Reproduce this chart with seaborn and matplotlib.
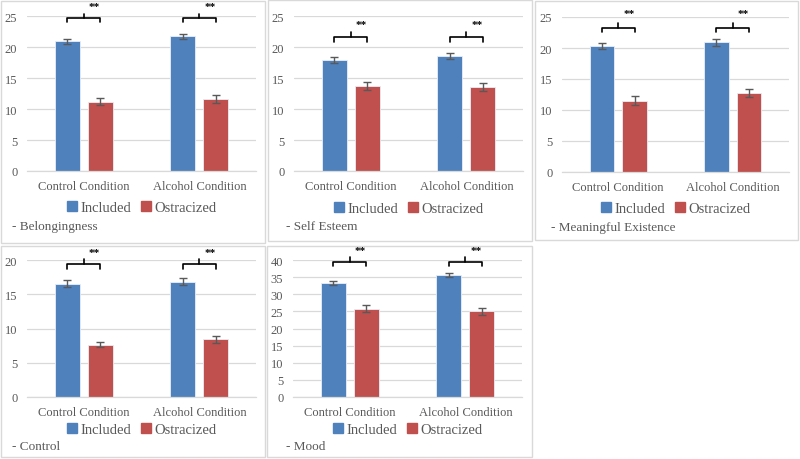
import numpy as np
import pandas as pd
import seaborn as sns
import matplotlib.pyplot as plt
from matplotlib.patches import Rectangle
from matplotlib.lines import Line2D

conditions = ["Control Condition", "Alcohol Condition"]
groups = ["Included", "Ostracized"]
measures = ["Belongingness", "Self Esteem", "Meaningful Existence", "Control", "Mood"]

included_means = [[20.9, 21.7], [17.9, 18.5], [20.3, 20.9], [16.55, 16.85], [33.3, 35.7]]
ostracized_means = [[11.2, 11.6], [13.7, 13.5], [11.5, 12.8], [7.65, 8.4], [25.8, 25.0]]
included_err = [[0.4, 0.45], [0.5, 0.5], [0.45, 0.5], [0.5, 0.5], [0.6, 0.6]]
ostracized_err = [[0.6, 0.6], [0.6, 0.65], [0.7, 0.65], [0.4, 0.45], [1.1, 1.1]]
y_max = [25, 25, 25, 20, 40]
significance = ["**", "**"]

# layout in image pixels (800x460): panel box, axes box, label rows
panel_box = [(1, 2, 265, 244), (268, 1, 532, 242), (535, 2, 798, 241),
             (1, 247, 265, 458), (267, 247, 532, 458)]
axes_box = [(27, 17, 256, 172), (294, 17, 523, 172), (562, 18, 789, 173),
            (27, 261, 256, 398), (293, 261, 522, 398)]
legend_y = [208, 209, 209, 430, 430]
title_xy = [(12, 227), (286, 227), (551, 228), (12, 447), (286, 447)]
# bracket rows in data units: leg bottom, bar, centre tip, stars
bracket_y = [(24.0, 24.6, 25.3, 27.0), (20.8, 21.6, 22.4, 24.2),
             (22.6, 23.3, 24.1, 26.0), (18.7, 19.4, 20.2, 21.6),
             (38.3, 39.5, 41.0, 43.8)]

W, H = 800, 460
colors = ["#4f81bd", "#c0504d"]
text_gray = "#595959"
grid_gray = "#d9d9d9"

sns.set_theme(style="white")
plt.rcParams["font.family"] = ["Liberation Serif", "DejaVu Serif"]

fig = plt.figure(figsize=(W / 100, H / 100), dpi=100)


def fx(px):
    return px / W


def fy(py):
    return 1 - py / H


for k, name in enumerate(measures):
    x0, y0, x1, y1 = panel_box[k]
    fig.add_artist(Rectangle((fx(x0), fy(y1)), (x1 - x0) / W, (y1 - y0) / H,
                             transform=fig.transFigure, fill=False,
                             edgecolor=grid_gray, linewidth=1.0, zorder=0))

    l, t, r, b = axes_box[k]
    ax = fig.add_axes([fx(l), fy(b), (r - l) / W, (b - t) / H])

    df = pd.DataFrame({
        "condition": conditions * 2,
        "group": [groups[0]] * 2 + [groups[1]] * 2,
        "value": included_means[k] + ostracized_means[k],
    })
    sns.barplot(data=df, x="condition", y="value", hue="group", order=conditions,
                hue_order=groups, palette=colors, errorbar=None, width=0.57,
                gap=0.25, saturation=1, edgecolor="#e8eef7", linewidth=0.6,
                legend=False, ax=ax, zorder=2)

    bars = [list(c) for c in ax.containers[:2]]
    errs = [included_err[k], ostracized_err[k]]
    means = [included_means[k], ostracized_means[k]]
    for g in range(2):
        xs = [p.get_x() + p.get_width() / 2 for p in bars[g]]
        ax.errorbar(xs, means[g], yerr=errs[g], fmt="none", ecolor="#595959",
                    elinewidth=1.0, capsize=2.6, capthick=1.0, zorder=3)

    leg_b, bar_h, tip, star_y = bracket_y[k]
    for i in range(2):
        xa = bars[0][i].get_x() + bars[0][i].get_width() / 2
        xb = bars[1][i].get_x() + bars[1][i].get_width() / 2
        xm = (xa + xb) / 2
        ax.plot([xa, xa, xb, xb], [leg_b, bar_h, bar_h, leg_b], color="black",
                lw=1.2, clip_on=False, solid_joinstyle="round")
        ax.plot([xm, xm], [bar_h, tip], color="black", lw=1.2, clip_on=False)
        ax.annotate(significance[i], (xm, star_y), xytext=(3.5, -2.2),
                    textcoords="offset points", ha="left", va="center",
                    fontsize=8, fontweight="bold", color="black",
                    annotation_clip=False)

    ax.set_xlim(-0.49, 1.49)
    ax.set_ylim(0, y_max[k])
    ax.set_yticks(np.arange(0, y_max[k] + 1, 5))
    ax.yaxis.grid(True, color=grid_gray, linewidth=0.9, zorder=0)
    ax.set_axisbelow(True)
    for s in ["top", "right", "left"]:
        ax.spines[s].set_visible(False)
    ax.spines["bottom"].set_color(grid_gray)
    ax.spines["bottom"].set_linewidth(0.9)
    ax.set_xlabel("")
    ax.set_ylabel("")
    ax.tick_params(axis="y", length=0, pad=7, labelsize=9, labelcolor=text_gray)
    ax.tick_params(axis="x", length=0, pad=6.5, labelsize=9, labelcolor=text_gray)
    ax.patch.set_alpha(0)

    handles = [Line2D([], [], marker="s", linestyle="none", markersize=7,
                      markerfacecolor=c, markeredgecolor=c) for c in colors]
    ax.legend(handles, groups, loc="center", ncol=2, frameon=False,
              bbox_to_anchor=(fx((l + r) / 2), fy(legend_y[k])),
              bbox_transform=fig.transFigure, fontsize=10.5, labelcolor=text_gray,
              handlelength=0.8, handletextpad=0.2, columnspacing=0.6,
              borderpad=0)

    tx, ty = title_xy[k]
    fig.text(fx(tx), fy(ty), "- " + name, ha="left", va="center",
             fontsize=9.5, color=text_gray)

fig.savefig("out.png", dpi=100)
